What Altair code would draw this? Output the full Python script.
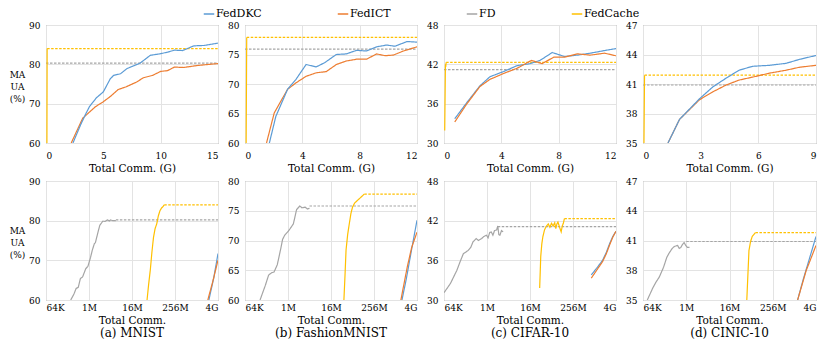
import altair as alt
import pandas as pd

SERIES = ["FedDKC", "FedICT", "FD", "FedCache"]
COLORS = ["#5B9BD5", "#ED7D31", "#A5A5A5", "#FFC000"]
FONT = "DejaVu Serif"

# ---------------- top row: x = total communication in G ----------------
top_mnist_dkc = [(2.35, 60), (3.0, 64.5), (3.5, 67.6), (3.8, 69.3), (4.4, 71.5), (5.0, 73.0), (5.6, 76.3),
                 (5.9, 77.2), (6.5, 77.6), (7.05, 78.9), (8.2, 80.3), (9.1, 82.3), (10.0, 82.7), (10.6, 83.1),
                 (11.2, 83.6), (11.9, 83.5), (12.9, 84.7), (13.8, 84.8), (15.0, 85.4)]
top_mnist_ict = [(2.2, 60), (3.2, 66.3), (4.3, 69.2), (5.0, 70.5), (5.6, 71.8), (6.3, 73.6), (7.0, 74.3),
                 (7.9, 75.5), (8.5, 76.6), (9.3, 77.2), (10.0, 78.2), (10.6, 78.4), (11.2, 79.3), (12.0, 79.2),
                 (13.2, 79.7), (15.0, 80.2)]
top_mnist_cache = [(0.08, 60), (0.1, 84.0)]
top_mnist_cache_end = [(0.1, 84.0), (15.0, 84.0)]
top_mnist_fd_end = [(0.0, 80.3), (15.0, 80.3)]

top_fmnist_dkc = [(1.7, 60), (2.15, 64.5), (2.97, 69.1), (3.56, 70.8), (4.26, 73.3), (4.97, 72.9), (5.55, 73.6),
                  (6.37, 75.0), (7.07, 75.1), (7.78, 75.7), (8.48, 75.6), (9.18, 76.3), (9.88, 76.6),
                  (10.47, 76.4), (11.3, 77.2), (12.0, 77.1)]
top_fmnist_ict = [(1.5, 60), (2.04, 65.1), (2.97, 69.1), (3.56, 70.2), (4.26, 71.3), (4.97, 71.9), (5.67, 72.1),
                  (6.37, 73.3), (7.07, 73.9), (7.78, 74.2), (8.48, 74.2), (9.18, 75.1), (9.77, 74.8),
                  (10.35, 74.9), (11.06, 75.6), (12.0, 76.3)]
top_fmnist_cache = [(0.08, 60), (0.12, 77.9)]
top_fmnist_cache_end = [(0.12, 77.9), (12.0, 77.9)]
top_fmnist_fd_end = [(0.0, 75.9), (12.0, 75.9)]

top_cifar_dkc = [(0.75, 33.7), (1.57, 36.1), (2.5, 38.7), (3.2, 40.1), (4.15, 40.9), (5.1, 41.8), (6.0, 42.1),
                 (6.7, 42.6), (7.55, 43.8), (8.4, 43.2), (9.3, 43.4), (10.2, 43.7), (11.2, 44.1), (12.0, 44.4)]
top_cifar_ict = [(0.75, 33.2), (1.57, 35.9), (2.5, 38.6), (3.2, 39.7), (4.15, 40.6), (5.1, 41.4), (6.1, 42.6),
                 (6.85, 42.1), (7.66, 43.1), (8.4, 43.1), (9.3, 43.6), (10.2, 43.4), (11.2, 43.7), (12.0, 43.3)]
top_cifar_cache = [(0.05, 31.9), (0.08, 38.0), (0.1, 42.0), (0.12, 41.6), (0.15, 42.3)]
top_cifar_cache_end = [(0.15, 42.3), (12.0, 42.3)]
top_cifar_fd_end = [(0.0, 41.2), (12.0, 41.2)]

top_cinic_dkc = [(1.3, 35), (1.9, 37.4), (2.94, 39.5), (3.63, 40.7), (4.33, 41.6), (5.0, 42.4), (5.7, 42.8),
                 (6.57, 42.9), (7.44, 43.1), (8.13, 43.5), (9.0, 43.9)]
top_cinic_ict = [(1.3, 35), (1.9, 37.4), (2.94, 39.4), (3.63, 40.2), (4.33, 40.9), (5.0, 41.4), (5.7, 41.7),
                 (6.57, 42.1), (7.44, 42.4), (8.13, 42.7), (9.0, 42.9)]
top_cinic_cache = [(0.05, 35), (0.08, 41.9)]
top_cinic_cache_end = [(0.08, 41.9), (9.0, 41.9)]
top_cinic_fd_end = [(0.0, 40.9), (9.0, 40.9)]

# ---------------- bottom row: x = log2(total communication in bytes) ----------------
bot_mnist_fd = [(18.3, 60), (18.6, 61.5), (18.8, 62.9), (19.0, 63.2), (19.2, 65.4), (19.4, 65.8), (19.7, 67.9),
                (19.9, 68.5), (20.15, 70.8), (20.3, 72.5), (20.5, 74.2), (20.6, 74.5), (20.8, 76.7),
                (21.0, 78.8), (21.1, 79.2), (21.3, 79.9), (21.5, 79.8), (21.7, 80.2), (21.9, 79.9),
                (22.0, 80.2), (22.2, 80.0), (22.5, 80.0)]
bot_mnist_fd_end = [(22.5, 80.2), (32.0, 80.2)]
bot_mnist_cache = [(25.4, 60), (25.55, 64), (25.7, 67.5), (25.85, 72), (26.0, 75.8), (26.15, 78), (26.3, 79.2),
                   (26.45, 81.2), (26.6, 82.5), (26.75, 83.2), (26.9, 83.6), (27.0, 84.0)]
bot_mnist_cache_end = [(27.0, 84.0), (32.0, 84.0)]
bot_mnist_dkc = [(31.15, 60), (31.6, 65.5), (32.0, 71.7)]
bot_mnist_ict = [(31.05, 60), (31.5, 64.5), (32.0, 70.0)]

bot_fmnist_fd = [(17.4, 60), (17.9, 62.5), (18.2, 64.2), (18.5, 64.6), (18.7, 64.7), (19.0, 65.9), (19.3, 68.4),
                 (19.5, 70.2), (19.7, 70.9), (20.0, 71.5), (20.2, 72.0), (20.5, 72.8), (20.65, 74.0),
                 (20.8, 75.2), (21.1, 75.8), (21.3, 75.5), (21.6, 75.6), (21.8, 75.3), (22.0, 75.4)]
bot_fmnist_fd_end = [(22.0, 75.8), (32.0, 75.8)]
bot_fmnist_cache = [(25.2, 60), (25.3, 64), (25.4, 68.4), (25.55, 71), (25.7, 72.8), (25.85, 74.5), (26.0, 75.6),
                    (26.2, 76.3), (26.5, 76.8), (26.8, 77.3), (27.1, 77.8)]
bot_fmnist_cache_end = [(27.1, 77.8), (32.0, 77.8)]
bot_fmnist_dkc = [(30.6, 60), (31.0, 63.5), (31.5, 68.5), (32.0, 73.4)]
bot_fmnist_ict = [(30.5, 60), (31.1, 65.6), (31.5, 68.8), (32.0, 71.4)]

bot_cifar_fd = [(16.0, 31.1), (16.6, 32.5), (17.2, 34.5), (17.5, 35.8), (17.8, 37.0), (18.25, 37.5), (18.5, 38.0),
                (18.7, 38.8), (19.0, 39.3), (19.2, 39.0), (19.5, 39.3), (19.7, 39.6), (19.95, 39.8),
                (20.1, 39.4), (20.25, 40.2), (20.4, 40.3), (20.55, 39.8), (20.7, 40.5), (20.9, 40.6),
                (21.0, 41.2), (21.1, 39.9), (21.2, 39.8), (21.35, 40.5), (21.5, 40.3)]
bot_cifar_fd_end = [(21.0, 41.1), (32.0, 41.1)]
bot_cifar_cache = [(24.9, 31.8), (25.0, 36.6), (25.1, 38.5), (25.2, 39.6), (25.35, 40.6), (25.5, 41.1),
                   (25.7, 41.5), (25.85, 41.0), (26.0, 41.6), (26.15, 41.2), (26.3, 41.7), (26.4, 40.8),
                   (26.5, 41.5), (26.6, 41.8), (26.75, 41.0), (26.9, 40.3), (27.0, 41.2), (27.1, 41.6),
                   (27.2, 42.3)]
bot_cifar_cache_end = [(27.2, 42.3), (32.0, 42.3)]
bot_cifar_dkc = [(29.7, 33.8), (30.2, 34.8), (30.75, 36.0), (31.1, 37.2), (31.4, 38.5), (31.7, 39.6), (32.0, 40.4)]
bot_cifar_ict = [(29.7, 33.3), (30.2, 34.5), (30.75, 35.8), (31.1, 37.0), (31.4, 38.3), (31.7, 39.5), (32.0, 40.4)]

bot_cinic_fd = [(16.4, 35), (16.9, 36.2), (17.2, 36.8), (17.5, 37.3), (17.9, 38.3), (18.2, 39.3), (18.4, 39.7),
                (18.7, 40.2), (18.9, 40.4), (19.2, 40.5), (19.35, 40.2), (19.5, 40.3), (19.65, 40.6),
                (19.8, 40.8), (19.95, 40.5), (20.1, 40.3), (20.3, 40.3)]
bot_cinic_fd_end = [(20.0, 40.9), (32.0, 40.9)]
bot_cinic_cache = [(25.6, 35), (25.7, 37.5), (25.8, 40.0), (25.95, 40.9), (26.1, 41.4), (26.25, 41.6), (26.4, 41.8)]
bot_cinic_cache_end = [(26.4, 41.8), (32.0, 41.8)]
bot_cinic_dkc = [(30.3, 35), (30.8, 37.0), (31.4, 39.2), (32.0, 41.4)]
bot_cinic_ict = [(30.3, 35), (31.1, 38.0), (31.5, 39.1), (32.0, 40.5)]

# axis settings
top_x_ticks = [[0, 5, 10, 15], [0, 4, 8, 12], [0, 4, 8, 12], [0, 3, 6, 9]]
top_x_dom = [[0, 15], [0, 12], [0, 12], [0, 9]]
y_ticks = [[60, 70, 80, 90], [60, 65, 70, 75, 80], [30, 36, 42, 48], [35, 38, 41, 44, 47]]
bot_x_ticks = [16, 20, 24, 28, 32]
bot_x_labels = ["64K", "1M", "16M", "256M", "4G"]
captions = ["(a) MNIST", "(b) FashionMNIST", "(c) CIFAR-10", "(d) CINIC-10"]


def frame(parts):
    rows = []
    idx = 0
    for series, part, pts in parts:
        for x, y in pts:
            rows.append({"series": series, "part": part, "key": series + part, "x": x, "y": y, "idx": idx})
            idx += 1
    return pd.DataFrame(rows)


top_data = [
    frame([("FD", "dash", top_mnist_fd_end), ("FedCache", "solid", top_mnist_cache),
           ("FedCache", "dash", top_mnist_cache_end), ("FedICT", "solid", top_mnist_ict),
           ("FedDKC", "solid", top_mnist_dkc)]),
    frame([("FD", "dash", top_fmnist_fd_end), ("FedCache", "solid", top_fmnist_cache),
           ("FedCache", "dash", top_fmnist_cache_end), ("FedICT", "solid", top_fmnist_ict),
           ("FedDKC", "solid", top_fmnist_dkc)]),
    frame([("FD", "dash", top_cifar_fd_end), ("FedCache", "solid", top_cifar_cache),
           ("FedCache", "dash", top_cifar_cache_end), ("FedDKC", "solid", top_cifar_dkc),
           ("FedICT", "solid", top_cifar_ict)]),
    frame([("FD", "dash", top_cinic_fd_end), ("FedCache", "solid", top_cinic_cache),
           ("FedCache", "dash", top_cinic_cache_end), ("FedICT", "solid", top_cinic_ict),
           ("FedDKC", "solid", top_cinic_dkc)]),
]
bot_data = [
    frame([("FD", "solid", bot_mnist_fd), ("FD", "dash", bot_mnist_fd_end), ("FedCache", "solid", bot_mnist_cache),
           ("FedCache", "dash", bot_mnist_cache_end), ("FedDKC", "solid", bot_mnist_dkc),
           ("FedICT", "solid", bot_mnist_ict)]),
    frame([("FD", "solid", bot_fmnist_fd), ("FD", "dash", bot_fmnist_fd_end), ("FedCache", "solid", bot_fmnist_cache),
           ("FedCache", "dash", bot_fmnist_cache_end), ("FedDKC", "solid", bot_fmnist_dkc),
           ("FedICT", "solid", bot_fmnist_ict)]),
    frame([("FD", "solid", bot_cifar_fd), ("FD", "dash", bot_cifar_fd_end), ("FedCache", "solid", bot_cifar_cache),
           ("FedCache", "dash", bot_cifar_cache_end), ("FedDKC", "solid", bot_cifar_dkc),
           ("FedICT", "solid", bot_cifar_ict)]),
    frame([("FD", "solid", bot_cinic_fd), ("FD", "dash", bot_cinic_fd_end), ("FedCache", "solid", bot_cinic_cache),
           ("FedCache", "dash", bot_cinic_cache_end), ("FedDKC", "solid", bot_cinic_dkc),
           ("FedICT", "solid", bot_cinic_ict)]),
]

legend = alt.Legend(orient="none", legendX=157, legendY=-17, direction="horizontal", title=None,
                    symbolType="stroke", symbolStrokeWidth=1.5, symbolSize=110, labelFont=FONT,
                    labelFontSize=11, labelColor="#000", labelOffset=1, columnPadding=72)

label_map = "{" + ",".join(f"'{v}':'{l}'" for v, l in zip(bot_x_ticks, bot_x_labels)) + "}"


def panel(df, xdom, xticks, ydom, yticks, w, h, first, bottom, caption=None):
    yaxis = alt.Axis(values=yticks, labelPadding=6,
                     title=["MA", "UA", "(%)"] if first else None,
                     titleAngle=0, titleAlign="center", titleBaseline="top",
                     titleX=-29, titleY=45, titleFontSize=9, titleLineHeight=12)
    if bottom:
        xaxis = alt.Axis(values=xticks, title="Total Comm.", labelPadding=3, titlePadding=3,
                         labelExpr=f"{label_map}[datum.value]")
    else:
        xaxis = alt.Axis(values=xticks, title="Total Comm. (G)", labelPadding=8, titlePadding=3)
    ch = alt.Chart(df).mark_line(strokeWidth=1.2, clip=True).encode(
        x=alt.X("x:Q", scale=alt.Scale(domain=xdom, nice=False, zero=False), axis=xaxis),
        y=alt.Y("y:Q", scale=alt.Scale(domain=ydom, nice=False, zero=False), axis=yaxis),
        color=alt.Color("series:N", scale=alt.Scale(domain=SERIES, range=COLORS), legend=legend),
        strokeDash=alt.StrokeDash("part:N", scale=alt.Scale(domain=["solid", "dash"], range=[[1, 0], [2.5, 1.5]]),
                                  legend=None),
        detail="key:N",
        order="idx:Q",
    )
    props = dict(width=w, height=h)
    if caption:
        props["title"] = alt.TitleParams(caption, orient="bottom", font=FONT, fontSize=12, fontWeight="normal",
                                         color="#000", offset=2)
    return ch.properties(**props)


widths = [172, 172, 172, 173]

panels = []
for i in range(4):
    panels.append(panel(top_data[i], top_x_dom[i], top_x_ticks[i], [y_ticks[i][0], y_ticks[i][-1]], y_ticks[i],
                        widths[i], 118, i == 0, False))
for i in range(4):
    panels.append(panel(bot_data[i], [16, 32], bot_x_ticks, [y_ticks[i][0], y_ticks[i][-1]], y_ticks[i],
                        widths[i], 119, i == 0, True, captions[i]))

chart = alt.concat(*panels, columns=4, spacing={"row": 38, "column": 27}, bounds="flush").resolve_scale(
    x="independent", y="independent", color="shared", strokeDash="shared"
).properties(padding=0).configure_view(
    stroke="#8c8c8c", strokeWidth=1
).configure_axis(
    grid=True, gridColor="#e3e3e3", gridWidth=1, domain=False, ticks=False, tickSize=0,
    labelFont=FONT, labelFontSize=9, labelColor="#000",
    titleFont=FONT, titleFontSize=10.5, titleFontWeight="normal", titleColor="#000"
)

chart.save("out.html", embed_options={"renderer": "svg", "actions": False})
